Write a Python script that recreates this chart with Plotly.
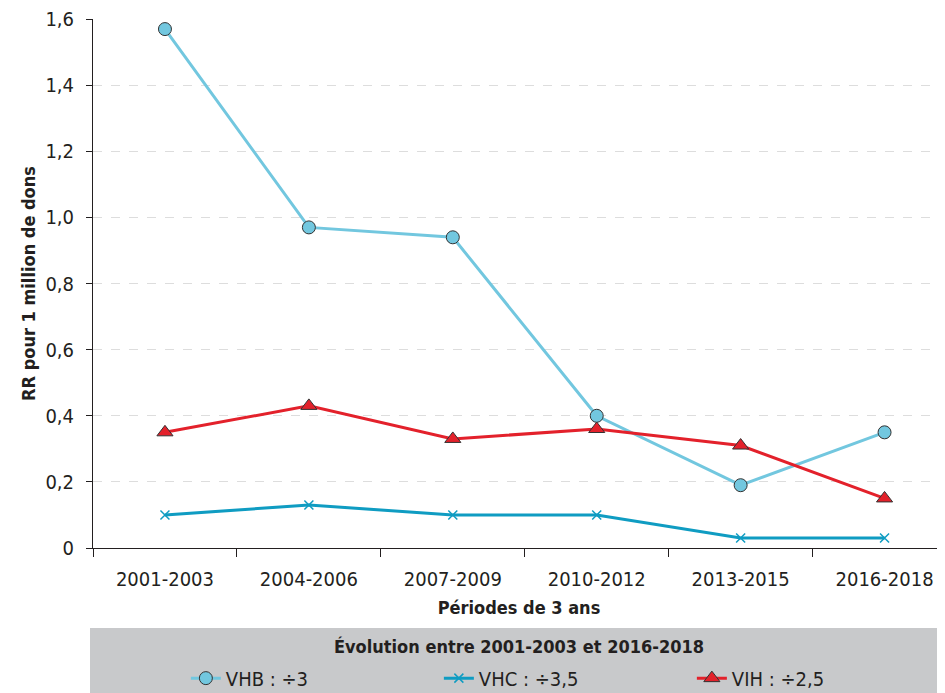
import plotly.graph_objects as go

periods = ["2001-2003", "2004-2006", "2007-2009", "2010-2012", "2013-2015", "2016-2018"]
vhb = [1.57, 0.97, 0.94, 0.40, 0.19, 0.35]
vhc = [0.10, 0.13, 0.10, 0.10, 0.03, 0.03]
vih = [0.35, 0.43, 0.33, 0.36, 0.31, 0.15]
names = ["VHB : ÷3", "VHC : ÷3,5", "VIH : ÷2,5"]
y_ticks = [0, 0.2, 0.4, 0.6, 0.8, 1.0, 1.2, 1.4, 1.6]
y_ticktext = ["0", "0,2", "0,4", "0,6", "0,8", "1,0", "1,2", "1,4", "1,6"]

FONT = "DejaVu Sans Condensed, Liberation Sans, Arial, sans-serif"

fig = go.Figure()
fig.add_trace(go.Scatter(
    x=periods, y=vhb, name=names[0], mode="lines+markers",
    line=dict(color="#72C7DF", width=3),
    marker=dict(symbol="circle", size=13, color="#72C7DF", line=dict(color="#333333", width=1)),
))
fig.add_trace(go.Scatter(
    x=periods, y=vhc, name=names[1], mode="lines+markers",
    line=dict(color="#0F9CC2", width=3),
    marker=dict(symbol="x-thin", size=9, color="#0F9CC2", line=dict(color="#0F9CC2", width=1.5)),
))
fig.add_trace(go.Scatter(
    x=periods, y=vih, name=names[2], mode="lines+markers",
    line=dict(color="#E3212B", width=3),
    marker=dict(symbol="triangle-up", size=14, color="#E3212B", line=dict(color="#333333", width=1)),
))

fig.update_layout(
    width=937, height=685,
    margin=dict(l=85, r=0, t=11, b=145, autoexpand=False),
    plot_bgcolor="white", paper_bgcolor="white",
    font=dict(family=FONT, size=17, color="#231F20"),
    showlegend=True,
    legend=dict(
        orientation="h", x=0.109, xanchor="left", y=-0.246, yanchor="middle",
        bgcolor="rgba(0,0,0,0)", entrywidth=208, entrywidthmode="pixels",
        font=dict(family=FONT, size=20, color="#231F20"), itemwidth=30,
    ),
    xaxis=dict(
        range=[-0.5, 5.42], showgrid=False, showline=True, linecolor="#231F20", linewidth=1,
        ticks="outside", tickson="boundaries", ticklen=8, tickcolor="#231F20",
        tickfont=dict(size=20), automargin=False, ticklabelstandoff=13,
        title=dict(text="<b>Périodes de 3 ans</b>", font=dict(size=18), standoff=11),
    ),
    yaxis=dict(
        range=[0, 1.6005], tickvals=y_ticks, ticktext=y_ticktext,
        showgrid=True, gridcolor="#DDDDDD", griddash="dash", gridwidth=1,
        showline=True, linecolor="#231F20", linewidth=1,
        ticks="outside", ticklen=6, tickcolor="#231F20", ticklabeloverflow="allow",
        tickfont=dict(size=20), zeroline=False, automargin=False, ticklabelstandoff=8,
        title=dict(text="<b>RR pour 1 million de dons</b>", font=dict(size=18), standoff=5),
    ),
    shapes=[dict(type="rect", xref="paper", yref="paper", x0=-0.0035, x1=1.0,
                 y0=-0.151, y1=-0.30, fillcolor="#C8C9CB", line=dict(width=0), layer="below")],
    annotations=[dict(text="<b>Évolution entre 2001-2003 et 2016-2018</b>", xref="paper", yref="paper",
                      x=0.5, y=-0.187, xanchor="center", yanchor="middle", showarrow=False,
                      font=dict(family=FONT, size=18, color="#231F20"))],
)

fig.write_html("out.html")
